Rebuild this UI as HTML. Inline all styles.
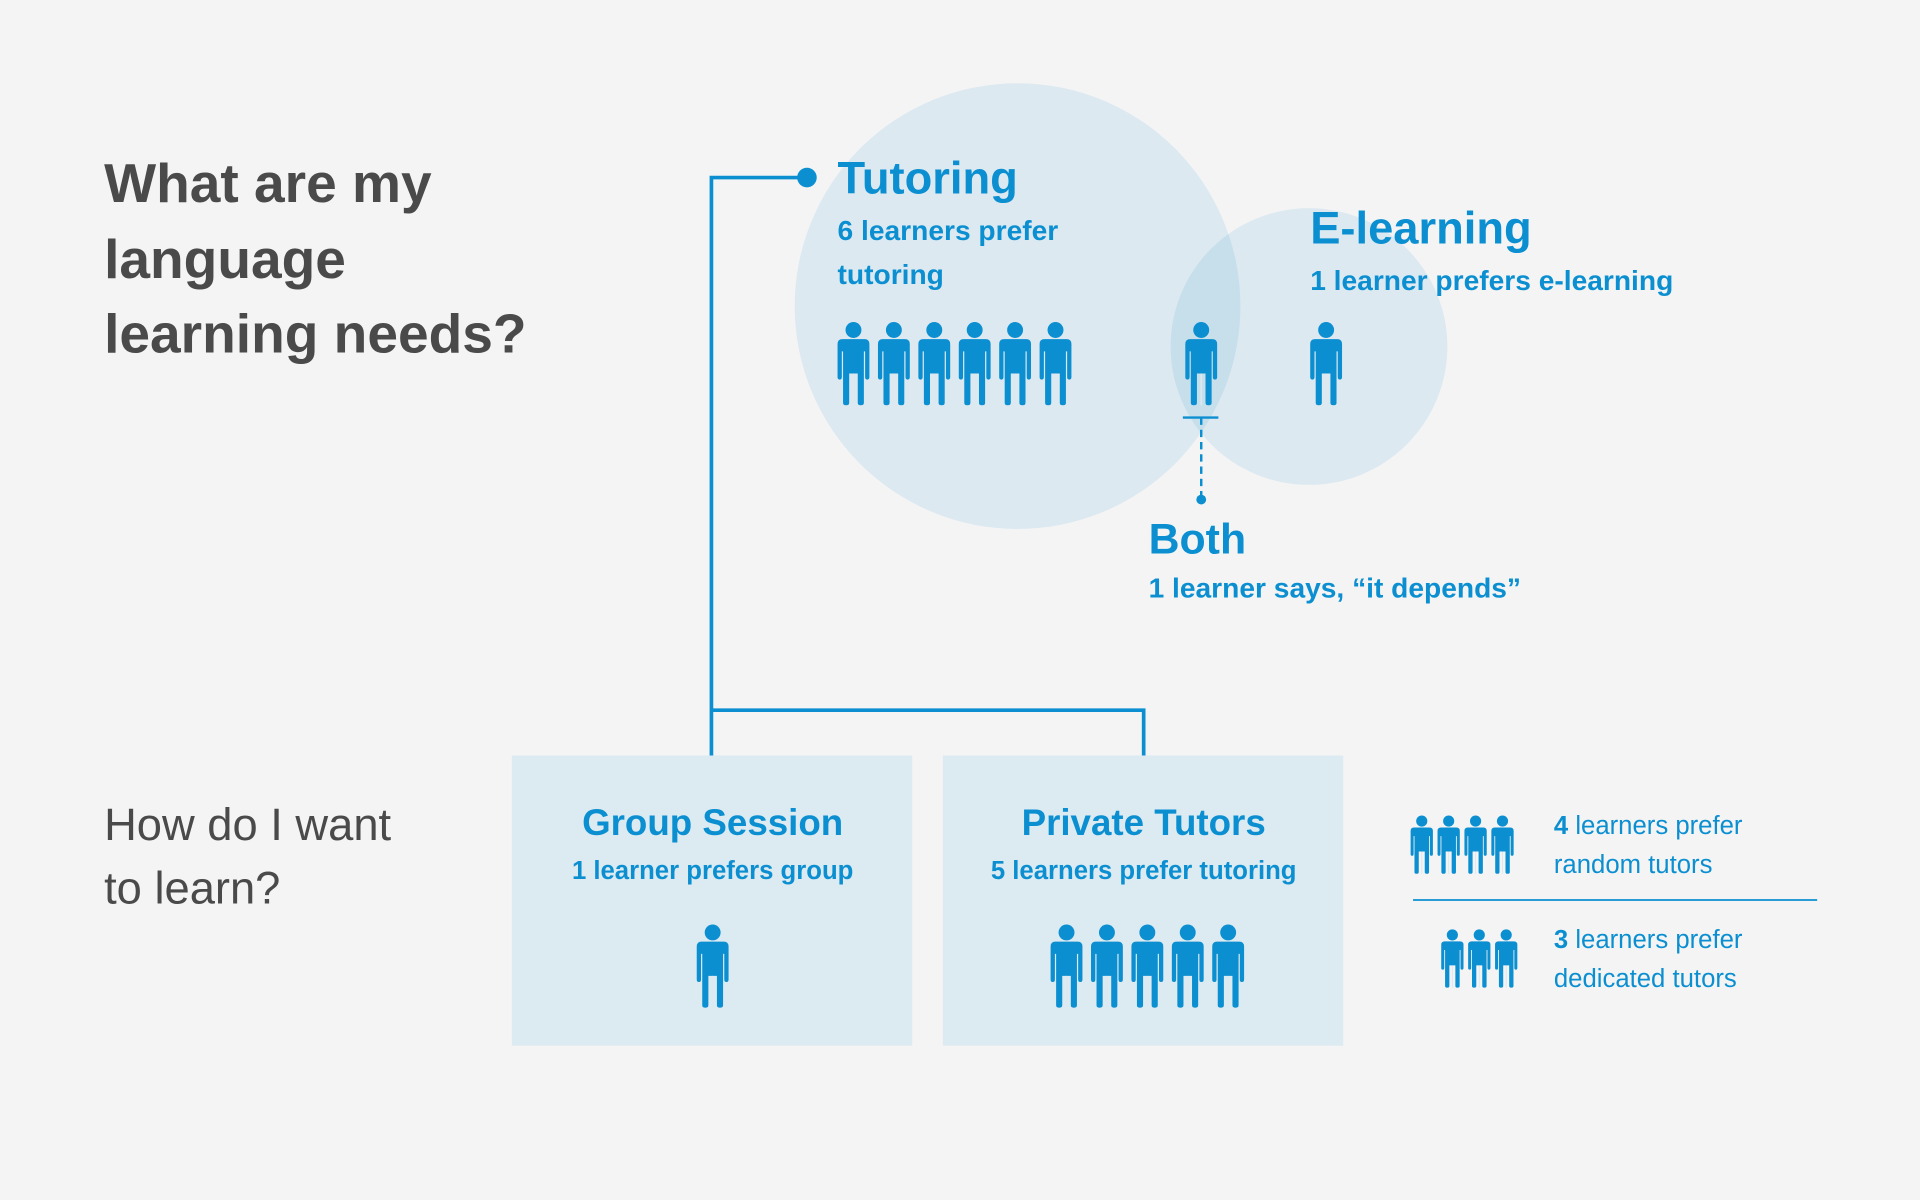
<!DOCTYPE html>
<html><head><meta charset="utf-8"><style>
html,body{margin:0;padding:0;background:#f4f4f4;width:1920px;height:1200px;overflow:hidden}
#c{position:absolute;left:0;top:0;width:1568px;height:980px;transform:scale(1.22449);transform-origin:0 0;font-family:"Liberation Sans",sans-serif}
svg{position:absolute;left:0;top:0}
.t{font-family:"Liberation Sans",sans-serif}
</style></head><body><div id="c">
<svg width="1568" height="980" viewBox="0 0 1568 980">
<defs>
<g id="p">
<circle cx="13" cy="6.5" r="6.5" fill="#0b8fd1"/>
<path d="M4 14 H22 Q26 14 26 18 V45 Q26 47 24.2 47 Q22.5 47 22.5 45 V24 H21.5 V66 Q21.5 68 19 68 Q16.5 68 16.5 66 V42 H9.5 V66 Q9.5 68 7 68 Q4.5 68 4.5 66 V24 H3.5 V45 Q3.5 47 1.8 47 Q0 47 0 45 V18 Q0 14 4 14Z" fill="#0b8fd1"/>
<rect x="12.4" y="42" width="1.2" height="26" fill="#dce9f1"/>
</g>
<clipPath id="cl"><circle cx="831" cy="250" r="182"/></clipPath>
</defs>
<circle cx="831" cy="250" r="182" fill="#dce9f1"/>
<circle cx="1069" cy="283" r="113" fill="#dce9f1"/>
<circle cx="1069" cy="283" r="113" fill="#c6dfeb" clip-path="url(#cl)"/>
<rect x="418" y="617" width="327" height="237" fill="#dceaf1"/>
<rect x="770" y="617" width="327" height="237" fill="#dceaf1"/>
<path d="M659 145 H581 V617 M581 580 H934 V617" fill="none" stroke="#0b8fd1" stroke-width="3"/>
<circle cx="659" cy="145" r="8" fill="#0b8fd1"/>
<path d="M966 341 H995" stroke="#0b8fd1" stroke-width="2"/>
<path d="M981 341 V408" stroke="#0b8fd1" stroke-width="2" stroke-dasharray="6,4"/>
<circle cx="981" cy="408" r="4" fill="#0b8fd1"/>
<use href="#p" x="684" y="263"/><use href="#p" x="717" y="263"/><use href="#p" x="750" y="263"/>
<use href="#p" x="783" y="263"/><use href="#p" x="816" y="263"/><use href="#p" x="849" y="263"/>
<use href="#p" x="968" y="263"/><use href="#p" x="1070" y="263"/>
<use href="#p" x="569" y="755"/>
<use href="#p" x="858" y="755"/><use href="#p" x="891" y="755"/><use href="#p" x="924" y="755"/><use href="#p" x="957" y="755"/><use href="#p" x="990" y="755"/>
<g transform="translate(1152,666) scale(0.7)"><use href="#p" x="0"/><use href="#p" x="31.4"/><use href="#p" x="62.8"/><use href="#p" x="94.2"/></g>
<g transform="translate(1177,759) scale(0.7)"><use href="#p" x="0"/><use href="#p" x="31.4"/><use href="#p" x="62.8"/></g>
<path d="M1154 735 H1484" stroke="#0b8fd1" stroke-width="1.5"/>
<g class="t" fill="#4a4a4a" font-size="45" font-weight="bold">
<text x="85" y="165">What are my</text><text x="85" y="227">language</text><text x="85" y="288">learning needs?</text></g>
<g class="t" fill="#4a4a4a" font-size="37">
<text x="85" y="686">How do I want</text><text x="85" y="738">to learn?</text></g>
<g class="t" fill="#0b8fd1" font-weight="bold">
<text x="684" y="158" font-size="37">Tutoring</text>
<text x="684" y="196" font-size="23">6 learners prefer</text>
<text x="684" y="232" font-size="23">tutoring</text>
<text x="1070" y="199" font-size="37">E-learning</text>
<text x="1070" y="237" font-size="23">1 learner prefers e-learning</text>
<text x="938" y="452" font-size="35">Both</text>
<text x="938" y="488" font-size="23">1 learner says, “it depends”</text>
<text x="582" y="682" font-size="30" text-anchor="middle">Group Session</text>
<text x="582" y="718" font-size="21" text-anchor="middle">1 learner prefers group</text>
<text x="934" y="682" font-size="30" text-anchor="middle">Private Tutors</text>
<text x="934" y="718" font-size="21" text-anchor="middle">5 learners prefer tutoring</text>
</g>
<g class="t" fill="#0b8fd1" font-size="21">
<text x="1269" y="681"><tspan font-weight="bold">4</tspan> learners prefer</text>
<text x="1269" y="713">random tutors</text>
<text x="1269" y="774"><tspan font-weight="bold">3</tspan> learners prefer</text>
<text x="1269" y="806">dedicated tutors</text>
</g>
</svg>
</div></body></html>
